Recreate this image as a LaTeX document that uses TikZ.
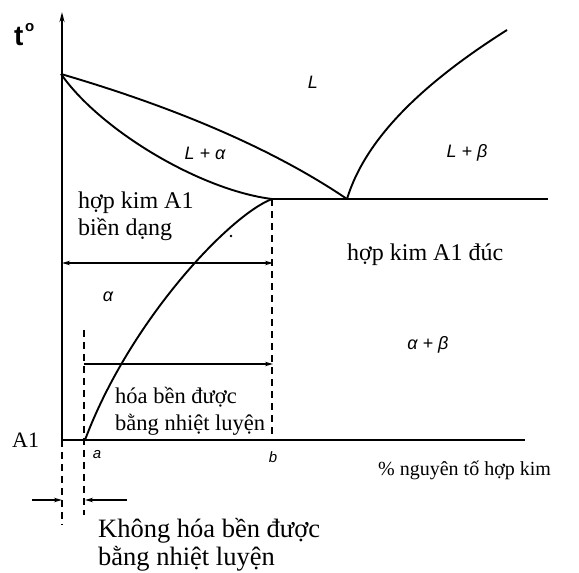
\documentclass[tikz,border=0pt]{standalone}
\usepackage{fontspec}
\setmainfont{Liberation Serif}
\newfontfamily\handfont{Liberation Sans}
\usetikzlibrary{arrows.meta}
\begin{document}
\begin{tikzpicture}[x=1pt,y=-1pt,
  curve/.style={line width=1.9pt},
  axisline/.style={line width=1.9pt},
  dashline/.style={line width=1.3pt, dash pattern=on 7pt off 5pt},
  dimarrow/.style={line width=1.4pt, -{Stealth[length=8pt,width=4.5pt]}},
  bigtext/.style={font=\fontsize{24}{27}\selectfont, inner sep=0pt, align=left},
  midtext/.style={font=\fontsize{22.5}{27}\selectfont, inner sep=0pt, align=left},
  hugetext/.style={font=\fontsize{26.5}{28}\selectfont, inner sep=0pt, align=left},
  phase/.style={font=\handfont\itshape\fontsize{18}{20}\selectfont, inner sep=0pt}]
\useasboundingbox (0,0) rectangle (579,573);
% key points
\coordinate (O) at (62,440);
\coordinate (ytop) at (62,12);
\coordinate (xend) at (525,440);
\coordinate (Tm) at (61,74);
\coordinate (E) at (347,199);
\coordinate (B) at (272,199);
\coordinate (Rend) at (507,30);
\coordinate (Hend) at (548,199);
\coordinate (A) at (85,440);
\coordinate (Bbot) at (272,440);
\coordinate (Atop) at (84,330);
\coordinate (Alow) at (84,515);
\coordinate (Olow) at (62,525);
% axes
\draw[axisline, -{Stealth[length=10pt,width=5pt]}] (O) -- (ytop);
\draw[axisline] (O) -- (xend);
% phase boundaries
\draw[curve] (Tm) .. controls (150,100) and (260,140) .. (E);
\draw[curve] (Tm) .. controls (100,130) and (200,190) .. (B);
\draw[curve] (B) -- (Hend);
\draw[curve] (E) .. controls (365,140) and (420,85) .. (Rend);
\draw[curve] (B) .. controls (230,215) and (130,320) .. (A);
% dashed verticals
\draw[dashline] (B) -- (Bbot);
\draw[dashline] (Atop) -- (Alow);
\draw[dashline] (O) -- (Olow);
% dimension arrows
\coordinate (h1l) at (62,263);
\coordinate (h1r) at (273,263);
\draw[dimarrow, {Stealth[length=8pt,width=4.5pt]}-{Stealth[length=8pt,width=4.5pt]}] (h1l) -- (h1r);
\coordinate (h2l) at (84,364);
\coordinate (h2r) at (273,364);
\draw[dimarrow] (h2l) -- (h2r);
\coordinate (k1s) at (32,500);
\coordinate (k1e) at (62,500);
\coordinate (k2s) at (127,500);
\coordinate (k2e) at (85,500);
\draw[dimarrow] (k1s) -- (k1e);
\draw[dimarrow] (k2s) -- (k2e);
% stray dot
\fill (231,236) circle (1.4pt);
% labels
\node[anchor=base west, inner sep=0pt, font=\handfont\bfseries\fontsize{28}{30}\selectfont] (tdeg) at (14,45) {t\hspace{1.5pt}\raisebox{0.5em}{\fontsize{15}{15}\selectfont o}};
\node[phase] (Lbl) at (313,82) {L};
\node[phase] (La) at (205,153) {L + α};
\node[phase] (Lb) at (467,153) {L + β};
\node[phase] (al) at (108,297) {α};
\node[phase] (ab) at (428,345) {α + β};
\node[phase, font=\handfont\itshape\fontsize{15}{16}\selectfont] (la) at (97,455) {a};
\node[phase, font=\handfont\itshape\fontsize{15}{16}\selectfont] (lb) at (273,457) {b};
\node[bigtext, anchor=north west] (wrought) at (78,192) {hợp kim A1\\biền dạng};
\node[bigtext, anchor=base west] (cast) at (347,260) {hợp kim A1 đúc};
\node[midtext, anchor=base west] (heat1) at (115,403) {hóa bền được};
\node[midtext, anchor=base west] (heat2) at (115,430) {bằng nhiệt luyện};
\node[anchor=base west, inner sep=0pt, font=\fontsize{22}{24}\selectfont] (Al) at (12,447) {A1};
\node[anchor=base west, inner sep=0pt, font=\fontsize{20}{22}\selectfont] (xlab) at (378,475) {\% nguyên tố hợp kim};
\node[hugetext, anchor=base west] (non1) at (98,537) {Không hóa bền được};
\node[hugetext, anchor=base west] (non2) at (98,565) {bằng nhiệt luyện};
\end{tikzpicture}
\end{document}
